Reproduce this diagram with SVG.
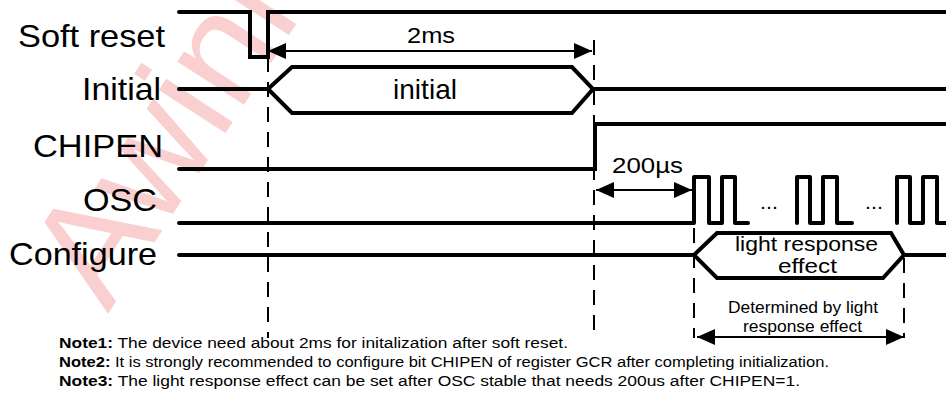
<svg xmlns="http://www.w3.org/2000/svg" width="946" height="396" viewBox="0 0 946 396">
<style>
.bg{fill:#ffffff}
.sig{fill:none;stroke:#000;stroke-width:4;stroke-linecap:round;stroke-linejoin:miter}
.osc{fill:none;stroke:#000;stroke-width:4;stroke-linecap:round;stroke-linejoin:round}
.dash{fill:none;stroke:#000;stroke-width:2;stroke-dasharray:15 10}
.arr{fill:none;stroke:#000;stroke-width:2}
.lbl{font-family:"Liberation Sans",Arial,sans-serif;font-size:32px;fill:#000}
.t{font-family:"Liberation Sans",Arial,sans-serif;fill:#000}
.note{font-family:"Liberation Sans",Arial,sans-serif;font-size:14px;fill:#000}
.wm{font-family:"Liberation Sans",Arial,sans-serif;font-size:150px;fill:#f9cfcf}
</style>
<defs>
<marker id="ah" markerUnits="userSpaceOnUse" markerWidth="18" markerHeight="16" refX="18" refY="8" orient="auto-start-reverse">
<path d="M0,0 L18,8 L0,16 Z" fill="#000"/>
</marker>
</defs>
<rect class="bg" x="0" y="0" width="946" height="396"/>
<text class="wm" transform="translate(108,314) rotate(-57)">Awinic</text>

<g id="soft-reset">
<text class="lbl" x="18" y="47" textLength="147" lengthAdjust="spacingAndGlyphs">Soft reset</text>
<path class="sig" d="M179,12 H250 V57 H268 V12 H948"/>
</g>

<g id="initial">
<text class="lbl" x="82" y="100" textLength="79" lengthAdjust="spacingAndGlyphs">Initial</text>
<path class="sig" d="M179,89 H268"/>
<path class="sig" d="M593,89 H948"/>
<path class="sig" d="M268,89 L292,67 H572 L593,89 L572,113 H292 Z"/>
<text class="t" x="425" y="99" font-size="28" text-anchor="middle" textLength="64" lengthAdjust="spacingAndGlyphs">initial</text>
</g>

<g id="chipen">
<text class="lbl" x="33" y="157" textLength="130" lengthAdjust="spacingAndGlyphs">CHIPEN</text>
<path class="sig" d="M179,169 H595 V124 H948"/>
</g>

<g id="osc">
<text class="lbl" x="83" y="211" textLength="74" lengthAdjust="spacingAndGlyphs">OSC</text>
<path class="osc" d="M179,223 H694 V177 H709 V223 H722 V177 H735 V223 H748"/>
<path class="osc" d="M797,223 V177 H810 V223 H823 V177 H837 V223 H852"/>
<path class="osc" d="M897,223 V177 H910 V223 H923 V177 H937 V223 H948"/>
<text class="t" x="760" y="209" font-size="20" textLength="18" lengthAdjust="spacingAndGlyphs">...</text>
<text class="t" x="865" y="209" font-size="20" textLength="18" lengthAdjust="spacingAndGlyphs">...</text>
</g>

<g id="configure">
<text class="lbl" x="9" y="265" textLength="148" lengthAdjust="spacingAndGlyphs">Configure</text>
<path class="sig" d="M179,255 H694"/>
<path class="sig" d="M904,255 H948"/>
<path class="sig" d="M694,255 L717,233 H891 L904,255 L883,278 H717 Z"/>
<text class="t" x="735" y="251" font-size="21" textLength="143" lengthAdjust="spacingAndGlyphs">light response</text>
<text class="t" x="778" y="273" font-size="21" textLength="59" lengthAdjust="spacingAndGlyphs">effect</text>
</g>

<g id="connectors">
<line class="dash" x1="268" y1="57" x2="268" y2="338"/>
<line class="dash" x1="594" y1="40" x2="594" y2="338"/>
<line class="dash" x1="694" y1="228" x2="694" y2="338"/>
<line class="dash" x1="904" y1="258" x2="904" y2="338"/>
<line class="arr" x1="268" y1="51" x2="592" y2="51" marker-start="url(#ah)" marker-end="url(#ah)"/>
<line class="arr" x1="596" y1="190" x2="692" y2="190" marker-start="url(#ah)" marker-end="url(#ah)"/>
<line class="arr" x1="697" y1="337" x2="904" y2="337" marker-start="url(#ah)" marker-end="url(#ah)"/>
<text class="t" x="407" y="43" font-size="22" textLength="48" lengthAdjust="spacingAndGlyphs">2ms</text>
<text class="t" x="612" y="173" font-size="22" textLength="71" lengthAdjust="spacingAndGlyphs">200µs</text>
<text class="t" x="728" y="313" font-size="16" textLength="150" lengthAdjust="spacingAndGlyphs">Determined by light</text>
<text class="t" x="743" y="332" font-size="16" textLength="119" lengthAdjust="spacingAndGlyphs">response effect</text>
</g>

<g id="notes">
<text class="note" x="59" y="348" textLength="509" lengthAdjust="spacingAndGlyphs"><tspan font-weight="bold">Note1:</tspan> The device need about 2ms for initalization after soft reset.</text>
<text class="note" x="59" y="367" textLength="770" lengthAdjust="spacingAndGlyphs"><tspan font-weight="bold">Note2:</tspan> It is strongly recommended to configure bit CHIPEN of register GCR after completing initialization.</text>
<text class="note" x="59" y="386" textLength="741" lengthAdjust="spacingAndGlyphs"><tspan font-weight="bold">Note3:</tspan> The light response effect can be set after OSC stable that needs 200us after CHIPEN=1.</text>
</g>
</svg>
